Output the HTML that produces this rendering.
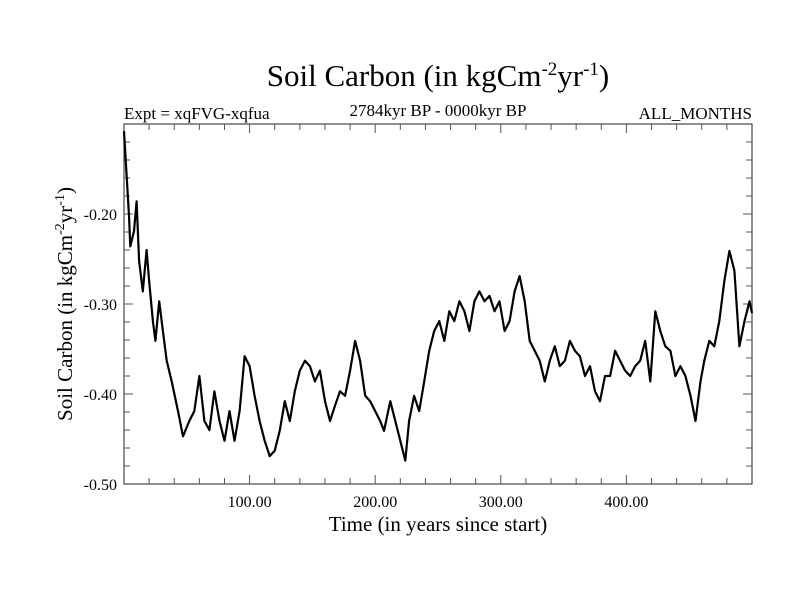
<!DOCTYPE html>
<html><head><meta charset="utf-8"><style>
body{margin:0;background:#fff;}
svg{display:block;font-family:"Liberation Serif",serif;}
</style></head><body>
<svg id="chart" width="800" height="600">
<text x="438" y="86" font-size="31" text-anchor="middle">Soil Carbon (in kgCm<tspan dy="-11" font-size="19">-2</tspan><tspan dy="11">yr</tspan><tspan dy="-11" font-size="19">-1</tspan><tspan dy="11">)</tspan></text>
<text x="124" y="119" font-size="17">Expt = xqFVG-xqfua</text>
<text x="438" y="116" font-size="17" text-anchor="middle">2784kyr BP - 0000kyr BP</text>
<text x="752" y="119" font-size="17" text-anchor="end">ALL_MONTHS</text>
<text x="438" y="531" font-size="21" text-anchor="middle">Time (in years since start)</text>
<text transform="translate(72,304) rotate(-90)" font-size="21" text-anchor="middle">Soil Carbon (in kgCm<tspan dy="-8" font-size="14">-2</tspan><tspan dy="8">yr</tspan><tspan dy="-8" font-size="14">-1</tspan><tspan dy="8">)</tspan></text>
<g id="axes"></g>
<g id="series"></g>
</svg>
<script>
const years=[0,2,4,5,8,10,12,15,18,20,23,25,28,31,34,38,43,47,52,56,60,64,68,72,76,80,84,88,92,96,100,104,108,112,116,120,124,128,132,136,140,144,148,152,156,160,164,168,172,176,180,184,188,192,196,200,204,207,212,216,220,224,227,231,235,239,243,247,251,255,259,263,267,271,275,279,283,287,291,295,299,303,307,311,315,319,323,327,331,335,339,343,347,351,355,359,363,367,371,375,379,383,387,391,395,399,403,407,411,415,419,423,427,431,435,439,443,447,451,455,459,462,466,470,474,478,482,486,490,494,498,500];
const values=[-0.108,-0.155,-0.202,-0.236,-0.219,-0.186,-0.252,-0.286,-0.240,-0.274,-0.319,-0.341,-0.297,-0.330,-0.363,-0.386,-0.419,-0.447,-0.430,-0.419,-0.380,-0.430,-0.440,-0.397,-0.430,-0.452,-0.419,-0.452,-0.419,-0.358,-0.369,-0.402,-0.430,-0.452,-0.469,-0.463,-0.441,-0.408,-0.430,-0.397,-0.374,-0.363,-0.369,-0.386,-0.374,-0.408,-0.430,-0.413,-0.397,-0.402,-0.374,-0.341,-0.363,-0.402,-0.408,-0.419,-0.430,-0.441,-0.408,-0.430,-0.452,-0.474,-0.430,-0.402,-0.419,-0.386,-0.352,-0.330,-0.319,-0.341,-0.308,-0.319,-0.297,-0.308,-0.330,-0.297,-0.286,-0.297,-0.291,-0.308,-0.297,-0.330,-0.319,-0.286,-0.269,-0.297,-0.341,-0.352,-0.363,-0.386,-0.363,-0.347,-0.369,-0.363,-0.341,-0.352,-0.358,-0.380,-0.369,-0.397,-0.408,-0.380,-0.380,-0.352,-0.363,-0.374,-0.380,-0.369,-0.363,-0.341,-0.386,-0.308,-0.330,-0.347,-0.352,-0.380,-0.369,-0.380,-0.402,-0.430,-0.386,-0.363,-0.341,-0.347,-0.319,-0.274,-0.241,-0.263,-0.347,-0.319,-0.297,-0.310];
const xTicks=[100,200,300,400];
const xTickLabels=["100.00","200.00","300.00","400.00"];
const yTicks=[-0.2,-0.3,-0.4,-0.5];
const yTickLabels=["-0.20","-0.30","-0.40","-0.50"];
const X0=124,X1=752,Y0=124,Y1=484;
const xs=v=>X0+(v-0)/(500-0)*(X1-X0);
const ys=v=>Y0+(-0.1-v)/(0.4)*(Y1-Y0);
const NS="http://www.w3.org/2000/svg";
const axes=document.getElementById('axes');
function mk(tag,attrs,parent){const e=document.createElementNS(NS,tag);for(const k in attrs)e.setAttribute(k,attrs[k]);parent.appendChild(e);return e;}
const frame=mk('rect',{x:X0,y:Y0,width:X1-X0,height:Y1-Y0,fill:'none',stroke:'#555','stroke-width':1.3},axes);


for(let t=20;t<500;t+=20){const major=t%100===0;const L=major?9:6;
 mk('line',{x1:xs(t),x2:xs(t),y1:Y1,y2:Y1-L,stroke:'#555'},axes);
 mk('line',{x1:xs(t),x2:xs(t),y1:Y0,y2:Y0+L,stroke:'#555'},axes);}
for(let i=1;i<20;i++){const v=-0.5+i*0.02;const major=i%5===0;const L=major?9:6;
 mk('line',{x1:X0,x2:X0+L,y1:ys(v),y2:ys(v),stroke:'#555'},axes);
 mk('line',{x1:X1,x2:X1-L,y1:ys(v),y2:ys(v),stroke:'#555'},axes);}
xTicks.forEach((t,i)=>{const e=mk('text',{x:xs(t),y:Y1+23,'font-size':16,'text-anchor':'middle'},axes);e.textContent=xTickLabels[i];
 
 });
yTicks.forEach((t,i)=>{const e=mk('text',{x:X0-7,y:ys(t)+6,'font-size':16,'text-anchor':'end'},axes);e.textContent=yTickLabels[i];
 
 });
const d=years.map((y,i)=>(i?'L':'M')+xs(y).toFixed(1)+','+ys(values[i]).toFixed(1)).join('');
const p=mk('path',{d:d,fill:'none',stroke:'#000','stroke-width':2.2,'stroke-linejoin':'round'},document.getElementById('series'));


</script>
</body></html>
